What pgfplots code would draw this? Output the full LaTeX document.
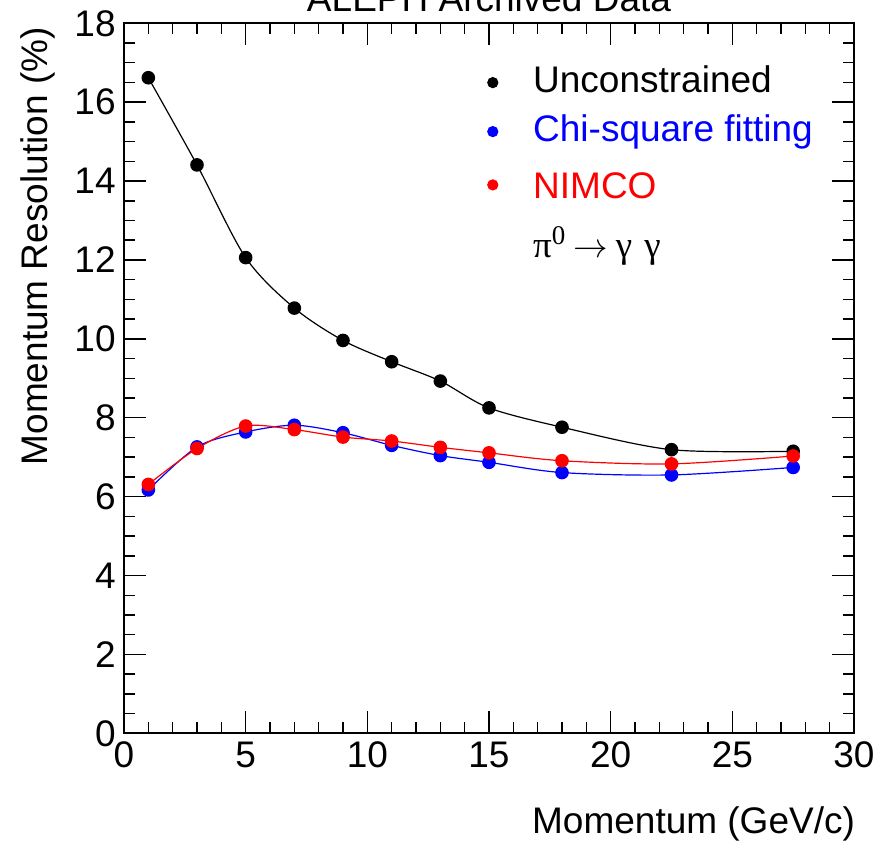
\documentclass[border=0pt]{standalone}
\usepackage{pgfplots}
\pgfplotsset{compat=1.18}
\usepackage{fontspec}
\setmainfont{Liberation Sans}
\newfontfamily\serif{Liberation Serif}
\newcommand{\bigf}{\fontsize{18.5}{22}\selectfont}

\begin{document}
\begin{tikzpicture}
\begin{axis}[
  at={(0pt,0pt)}, anchor=south west,
  scale only axis, width=365pt, height=355pt,
  xmin=0, xmax=30, ymin=0, ymax=18,
  xtick={0,5,...,30}, minor x tick num=4,
  ytick={0,2,...,18}, minor y tick num=3,
  tick align=inside,
  major tick length=11pt, minor tick length=5.5pt,
  axis line style={line width=1pt},
  every tick/.style={black, line width=0.75pt},
  tick label style={font=\bigf, inner sep=0pt},
  /pgf/number format/assume math mode=true,
  xticklabel style={yshift=-4.2pt},
  yticklabel style={xshift=-4pt},
  legend cell align=left,
  legend style={draw=none, fill=none, inner sep=0pt,
    at={(rel axis cs:0.4978,0.9417)}, anchor=north west,
    font=\bigf, row sep=7pt, column sep=17.7pt,
    nodes={inner sep=0pt, text height=13.5pt, text depth=4pt}},
  legend image code/.code={\draw[#1, mark size=2.5pt] plot coordinates {(0pt,0pt)};},
]
\addplot[black, line width=0.6pt, smooth, mark=*, mark size=3.1pt, mark options={solid}]
  coordinates {(1,16.62)(3,14.41)(5,12.06)(7,10.78)(9,9.96)(11,9.42)(13,8.93)(15,8.25)(18,7.76)(22.5,7.19)(27.5,7.15)};
\addlegendentry{Unconstrained}
\addplot[blue, line width=0.6pt, smooth, mark=*, mark size=3.1pt]
  coordinates {(1,6.17)(3,7.26)(5,7.64)(7,7.81)(9,7.62)(11,7.30)(13,7.04)(15,6.87)(18,6.61)(22.5,6.55)(27.5,6.74)};
\addlegendentry[text height=13.5pt]{\textcolor{blue}{Chi-square fitting}}
\addplot[red, line width=0.6pt, smooth, mark=*, mark size=3.1pt]
  coordinates {(1,6.31)(3,7.22)(5,7.79)(7,7.70)(9,7.51)(11,7.41)(13,7.25)(15,7.11)(18,6.91)(22.5,6.83)(27.5,7.03)};
\addlegendentry[text height=17.8pt]{\textcolor{red}{NIMCO}}
\addlegendimage{empty legend}
\addlegendentry[text height=18.2pt]{{\serif π\raisebox{6.5pt}{\fontsize{13.5}{15}\selectfont 0}\hspace{4pt}$\rightarrow$\hspace{4pt}γ\hspace{6pt}γ}}
\end{axis}
\node[font=\bigf, anchor=base] at (182.5pt,361.15pt) {ALEPH Archived Data};
\node[font=\bigf, anchor=base east] at (369pt,-50pt) {Momentum (GeV/c)};
\node[font=\bigf, anchor=base east, rotate=90] at (-38pt,356.5pt) {Momentum Resolution (\%)};
\pgfresetboundingbox
\path[use as bounding box] (-62pt,-54.85pt) rectangle (377.5pt,366.65pt);
\end{tikzpicture}
\end{document}
